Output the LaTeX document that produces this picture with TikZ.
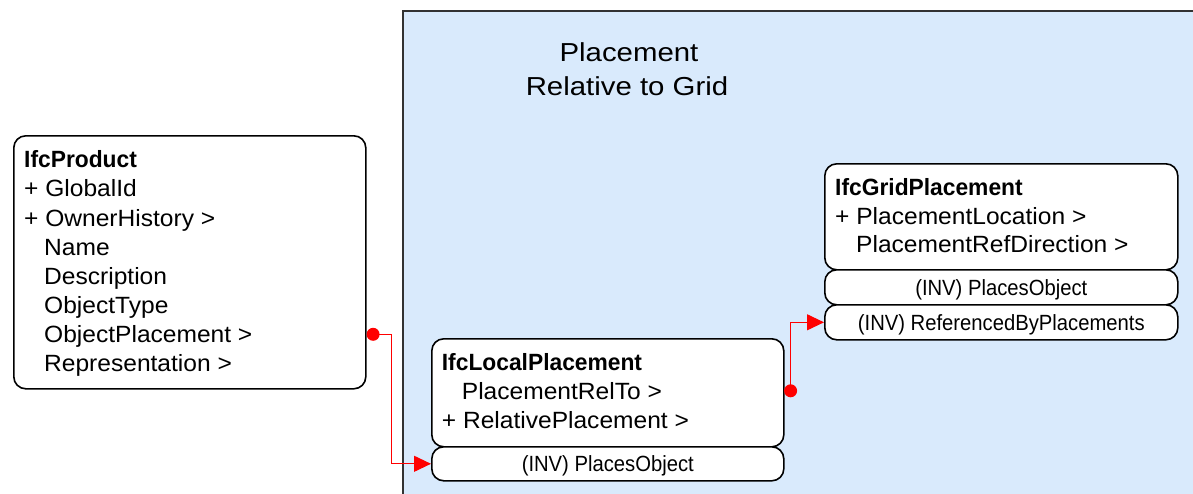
\documentclass[tikz,border=0pt]{standalone}
\usepackage{fontspec}
\setmainfont{Liberation Sans}
\newfontfamily\bodyfont[FakeStretch=1.045]{Liberation Sans}
\newfontfamily\titlefont[FakeStretch=1.13]{Liberation Sans}
\newfontfamily\invfont[FakeStretch=0.92]{Liberation Sans}
\newfontfamily\hdrfont[FakeStretch=0.97]{Liberation Sans}
\usetikzlibrary{arrows.meta}
\definecolor{regionblue}{RGB}{217,234,252}
\definecolor{regionedge}{RGB}{50,50,50}
\definecolor{linkred}{RGB}{255,0,0}
\begin{document}
\begin{tikzpicture}[x=1pt,y=-1pt,
  classbox/.style={draw=black, line width=1.6pt, rounded corners=12pt, fill=white, inner sep=0pt, anchor=north west},
  invbox/.style={classbox, font=\invfont\fontsize{22}{26}\selectfont, text height=15.75pt, text depth=0pt},
  attr/.style={anchor=base west, inner sep=0pt, font=\bodyfont\fontsize{23.5}{28}\selectfont},
  hdr/.style={anchor=base west, inner sep=0pt, font=\hdrfont\bfseries\fontsize{23.5}{28}\selectfont},
  ttl/.style={anchor=base, inner sep=0pt, font=\titlefont\fontsize{26}{32}\selectfont},
  link/.style={draw=linkred, line width=1.1pt},
  linkdot/.style={fill=linkred},
  tipped/.style={-{Triangle[length=17pt,width=16pt]}}
]
\useasboundingbox (0,0) rectangle (1193,493);
\clip (0,0) rectangle (1193,493);

% region
\node[name=region, fill=regionblue, draw=regionedge, line width=1.3pt, outer sep=0pt,
      inner sep=0pt, anchor=north west, minimum width=820, minimum height=500] at (403,11) {};
\node[ttl] (title1) at (629,61.7) {Placement};
\node[ttl] (title2) at (627,95) {Relative to Grid};

% IfcProduct
\node[classbox, minimum width=352, minimum height=253] (prod) at (13,135) {};
\node[hdr] (prod-h) at (24,167.7) {IfcProduct};
\foreach \t/\xx/\yy [count=\i] in {{+ GlobalId}/24/196.8, {+ OwnerHistory >}/24/226,
    Name/44/255.2, Description/44/284.3, ObjectType/44/313.5,
    {ObjectPlacement >}/44/342.6, {Representation >}/44/371.8}
  \node[attr] (prod-\i) at (\xx,\yy) {\t};

% IfcLocalPlacement
\node[classbox, minimum width=352, minimum height=108] (local) at (431,338) {};
\node[invbox, minimum width=352, minimum height=34] (local-inv) at (431,446) {(INV) PlacesObject};
\node[hdr] (local-h) at (441.7,370) {IfcLocalPlacement};
\node[attr] (local-1) at (461.7,399.3) {PlacementRelTo >};
\node[attr] (local-2) at (441.7,428.6) {+ RelativePlacement >};

% IfcGridPlacement
\node[classbox, minimum width=353, minimum height=106] (grid) at (824,163) {};
\node[invbox, minimum width=353, minimum height=35] (grid-inv) at (824,269) {(INV) PlacesObject};
\node[invbox, minimum width=353, minimum height=35] (grid-ref) at (824,304) {(INV) ReferencedByPlacements};
\node[hdr] (grid-h) at (835,195) {IfcGridPlacement};
\node[attr] (grid-1) at (835,224) {+ PlacementLocation >};
\node[attr] (grid-2) at (856,252.7) {PlacementRefDirection >};

% connectors
\path (prod.east) ++(0,72) coordinate (src1);
\draw[link, tipped] (src1) -- ++(25,0) |- (local-inv.west);
\fill[linkdot] (src1) ++(6.5,0) circle (6.5);

\path (local.east) ++(0,-2) coordinate (src2);
\draw[link, tipped] (src2) -- ++(5.5,0) |- (grid-ref.west);
\fill[linkdot] (src2) ++(6,0) circle (6.5);
\end{tikzpicture}
\end{document}
